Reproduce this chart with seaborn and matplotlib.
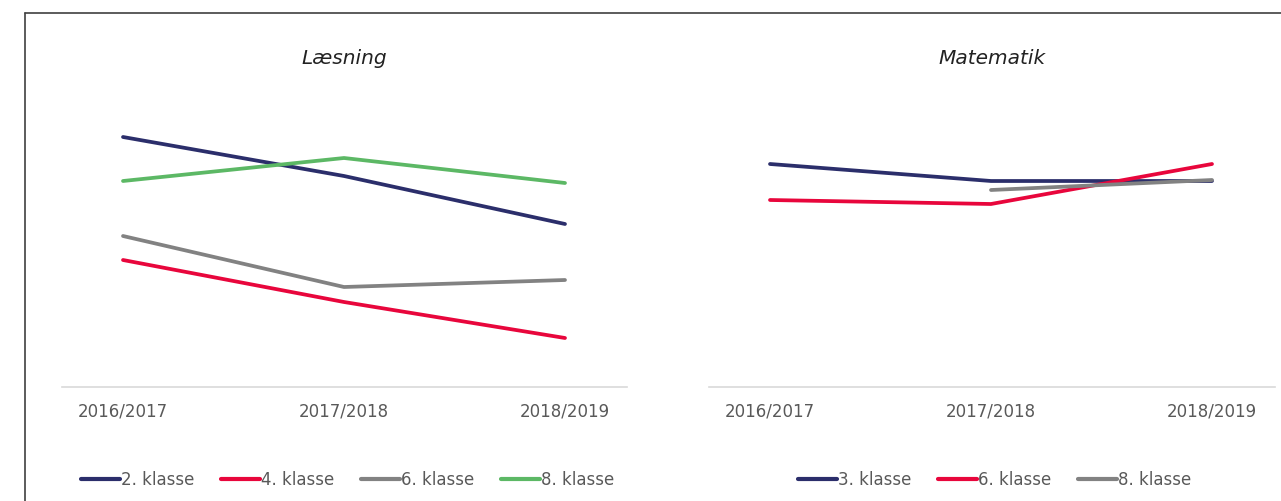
import pandas as pd
import numpy as np
import matplotlib
matplotlib.use("Agg")
import matplotlib.pyplot as plt
import seaborn as sns
from matplotlib.lines import Line2D

# School years on the x axis
years = ["2016/2017", "2017/2018", "2018/2019"]

# Læsning (reading) (arbitrary scale, no y axis shown)
laes_2 = [250, 211, 163]
laes_4 = [127, 85, 49]
laes_6 = [151, 100, 107]
laes_8 = [206, 229, 204]

# Matematik - 8. klasse has no value for 2016/2017
mat_3 = [223, 206, 206]
mat_6 = [187, 183, 223]
mat_8 = [np.nan, 197, 207]

laes_classes = ["2. klasse", "4. klasse", "6. klasse", "8. klasse"]
mat_classes = ["3. klasse", "6. klasse", "8. klasse"]

navy = "#2b2e6b"
red = "#e8063c"
grey = "#828282"
green = "#5cb865"

laes_palette = {"2. klasse": navy, "4. klasse": red, "6. klasse": grey, "8. klasse": green}
mat_palette = {"3. klasse": navy, "6. klasse": red, "8. klasse": grey}


def long_df(classes, series):
    rows = []
    for c, vals in zip(classes, series):
        for y, v in zip(years, vals):
            rows.append({"Aar": y, "Klasse": c, "Vaerdi": v})
    return pd.DataFrame(rows).dropna()


laes_df = long_df(laes_classes, [laes_2, laes_4, laes_6, laes_8])
mat_df = long_df(mat_classes, [mat_3, mat_6, mat_8])

sns.set_theme(style="white")
plt.rcParams['font.family'] = ['DejaVu Sans']

fig = plt.figure(figsize=(12.81, 5.01), dpi=100)
W, H = 1281, 501

# outer frame of the chart box (left and top edges visible)
fig.add_artist(Line2D([25 / W, 25 / W], [0, 1 - 13 / H], color="#404040", lw=1.2))
fig.add_artist(Line2D([25 / W, 1], [1 - 13 / H, 1 - 13 / H], color="#404040", lw=1.2))

panels = [
    ("Læsning", laes_df, laes_classes, laes_palette, 62, 627),
    ("Matematik", mat_df, mat_classes, mat_palette, 709, 1275),
]

for title, df, classes, pal, x0, x1 in panels:
    ax = fig.add_axes([x0 / W, (H - 387) / H, (x1 - x0) / W, 300 / H])
    sns.lineplot(data=df, x="Aar", y="Vaerdi", hue="Klasse", hue_order=classes,
                 palette=pal, linewidth=2.7, ax=ax, legend=False, sort=False)
    ax.set_xlim(-0.276, 2 + (x1 - x0 - 61 - 442) / 221)
    ax.set_ylim(0, 300)
    ax.set_xlabel("")
    ax.set_ylabel("")
    ax.set_yticks([])
    for s in ["top", "right", "left"]:
        ax.spines[s].set_visible(False)
    ax.spines["bottom"].set_color("#d9d9d9")
    ax.spines["bottom"].set_linewidth(1.2)
    ax.tick_params(axis="x", length=0, pad=11, labelsize=12, labelcolor="#595959")
    ax.text(0.5, (387 - 58) / 300, title, transform=ax.transAxes, ha="center",
            va="center", fontsize=14.5, style="italic", color="#222222")
    handles = [Line2D([0], [0], color=pal[c], lw=3) for c in classes]
    leg = ax.legend(handles, classes, loc="center", bbox_to_anchor=(0.505, -0.31),
                    ncol=len(classes), frameon=False, fontsize=12,
                    handlelength=2.35, handletextpad=0.05, columnspacing=1.6)
    for t in leg.get_texts():
        t.set_color("#595959")

fig.savefig("out.png", dpi=100)
